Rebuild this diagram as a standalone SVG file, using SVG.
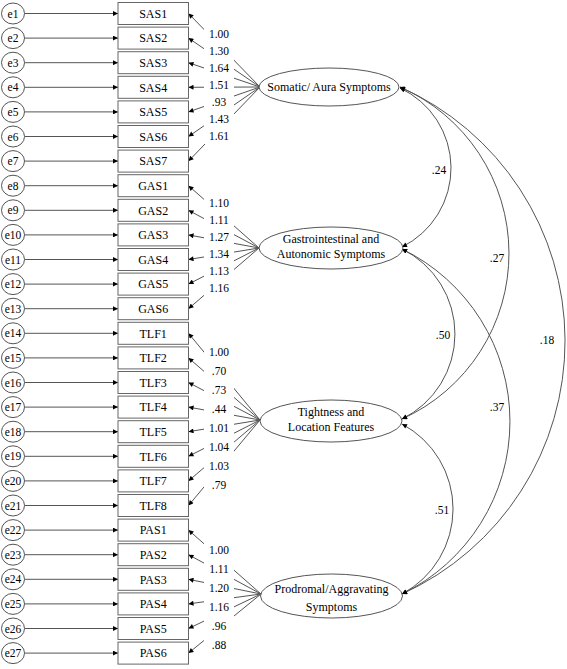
<svg xmlns="http://www.w3.org/2000/svg" width="567" height="669" viewBox="0 0 567 669">
<style>
  .err { fill: #fff; stroke: #555; stroke-width: 1; }
  .box { fill: #fff; stroke: #666; stroke-width: 1; }
  .fac { fill: #fff; stroke: #555; stroke-width: 1; }
  .t { font-family: "Liberation Serif", "Times New Roman", serif; font-size: 12px; fill: #000; text-anchor: middle; }
  .n { font-family: "Liberation Serif", "Times New Roman", serif; font-size: 11.5px; fill: #000; text-anchor: middle; }
  .c { fill: none; stroke: #555; stroke-width: 1; }
  .a { fill: none; stroke: #555; stroke-width: 1; marker-end: url(#ah); }
  .d { fill: none; stroke: #555; stroke-width: 1; marker-start: url(#ah); marker-end: url(#ah); }
  .mask { fill: #fff; stroke: none; }
</style>
<defs>
  <marker id="ah" viewBox="0 0 10 10" refX="10" refY="5" markerWidth="7" markerHeight="5" markerUnits="userSpaceOnUse" orient="auto-start-reverse">
    <path d="M0,0 L10,5 L0,10 z" fill="#000"/>
  </marker>
</defs>
<rect width="567" height="669" fill="#fff"/>

<g id="connectors">
  <!-- error arrows -->
  <line class="a" x1="24.5" y1="13.5" x2="118" y2="13.5"/>
  <line class="a" x1="24.5" y1="38.1" x2="118" y2="38.1"/>
  <line class="a" x1="24.5" y1="62.7" x2="118" y2="62.7"/>
  <line class="a" x1="24.5" y1="87.3" x2="118" y2="87.3"/>
  <line class="a" x1="24.5" y1="111.9" x2="118" y2="111.9"/>
  <line class="a" x1="24.5" y1="136.5" x2="118" y2="136.5"/>
  <line class="a" x1="24.5" y1="161.1" x2="118" y2="161.1"/>
  <line class="a" x1="24.5" y1="185.7" x2="118" y2="185.7"/>
  <line class="a" x1="24.5" y1="210.3" x2="118" y2="210.3"/>
  <line class="a" x1="24.5" y1="234.9" x2="118" y2="234.9"/>
  <line class="a" x1="24.5" y1="259.5" x2="118" y2="259.5"/>
  <line class="a" x1="24.5" y1="284.1" x2="118" y2="284.1"/>
  <line class="a" x1="24.5" y1="308.7" x2="118" y2="308.7"/>
  <line class="a" x1="24.5" y1="333.3" x2="118" y2="333.3"/>
  <line class="a" x1="24.5" y1="357.9" x2="118" y2="357.9"/>
  <line class="a" x1="24.5" y1="382.5" x2="118" y2="382.5"/>
  <line class="a" x1="24.5" y1="407.1" x2="118" y2="407.1"/>
  <line class="a" x1="24.5" y1="431.7" x2="118" y2="431.7"/>
  <line class="a" x1="24.5" y1="456.3" x2="118" y2="456.3"/>
  <line class="a" x1="24.5" y1="480.9" x2="118" y2="480.9"/>
  <line class="a" x1="24.5" y1="505.5" x2="118" y2="505.5"/>
  <line class="a" x1="24.5" y1="530.1" x2="118" y2="530.1"/>
  <line class="a" x1="24.5" y1="554.7" x2="118" y2="554.7"/>
  <line class="a" x1="24.5" y1="579.3" x2="118" y2="579.3"/>
  <line class="a" x1="24.5" y1="603.9" x2="118" y2="603.9"/>
  <line class="a" x1="24.5" y1="628.5" x2="118" y2="628.5"/>
  <line class="a" x1="24.5" y1="653.1" x2="118" y2="653.1"/>
  <!-- loadings: Somatic -->
  <line class="a" x1="260" y1="87" x2="188.5" y2="13.5"/>
  <line class="a" x1="260" y1="87" x2="188.5" y2="38.1"/>
  <line class="a" x1="260" y1="87" x2="188.5" y2="62.7"/>
  <line class="a" x1="260" y1="87" x2="188.5" y2="87.3"/>
  <line class="a" x1="260" y1="87" x2="188.5" y2="111.9"/>
  <line class="a" x1="260" y1="87" x2="188.5" y2="136.5"/>
  <line class="a" x1="260" y1="87" x2="188.5" y2="161.1"/>
  <!-- loadings: Gastro -->
  <line class="a" x1="259" y1="248" x2="188.5" y2="185.7"/>
  <line class="a" x1="259" y1="248" x2="188.5" y2="210.3"/>
  <line class="a" x1="259" y1="248" x2="188.5" y2="234.9"/>
  <line class="a" x1="259" y1="248" x2="188.5" y2="259.5"/>
  <line class="a" x1="259" y1="248" x2="188.5" y2="284.1"/>
  <line class="a" x1="259" y1="248" x2="188.5" y2="308.7"/>
  <!-- loadings: Tightness -->
  <line class="a" x1="260" y1="420" x2="188.5" y2="333.3"/>
  <line class="a" x1="260" y1="420" x2="188.5" y2="357.9"/>
  <line class="a" x1="260" y1="420" x2="188.5" y2="382.5"/>
  <line class="a" x1="260" y1="420" x2="188.5" y2="407.1"/>
  <line class="a" x1="260" y1="420" x2="188.5" y2="431.7"/>
  <line class="a" x1="260" y1="420" x2="188.5" y2="456.3"/>
  <line class="a" x1="260" y1="420" x2="188.5" y2="480.9"/>
  <line class="a" x1="260" y1="420" x2="188.5" y2="505.5"/>
  <!-- loadings: Prodromal -->
  <line class="a" x1="261" y1="594" x2="188.5" y2="530.1"/>
  <line class="a" x1="261" y1="594" x2="188.5" y2="554.7"/>
  <line class="a" x1="261" y1="594" x2="188.5" y2="579.3"/>
  <line class="a" x1="261" y1="594" x2="188.5" y2="603.9"/>
  <line class="a" x1="261" y1="594" x2="188.5" y2="628.5"/>
  <line class="a" x1="261" y1="594" x2="188.5" y2="653.1"/>
  <!-- covariances -->
  <path class="d" d="M400,88 A88.2,88.2 0 0 1 402,247"/>
  <path class="d" d="M400,87 A181.6,181.6 0 0 1 402,419"/>
  <path class="d" d="M400,87 A277.9,277.9 0 0 1 402,594"/>
  <path class="d" d="M402,249 A94.7,94.7 0 0 1 402,419"/>
  <path class="d" d="M402,249 A191.8,191.8 0 0 1 402,594"/>
  <path class="d" d="M402,424 A96.3,96.3 0 0 1 402,594"/>
</g>

<g id="labels">
  <rect class="mask" x="204" y="25" width="30" height="119"/>
  <rect class="mask" x="204" y="194.8" width="30" height="102"/>
  <rect class="mask" x="204" y="342.8" width="30" height="151.2"/>
  <rect class="mask" x="204" y="540.5" width="30" height="113.4"/>
  <text class="n" x="219" y="37.7">1.00</text>
  <text class="n" x="219" y="54.7">1.30</text>
  <text class="n" x="219" y="71.7">1.64</text>
  <text class="n" x="219" y="88.7">1.51</text>
  <text class="n" x="219" y="105.7">.93</text>
  <text class="n" x="219" y="122.7">1.43</text>
  <text class="n" x="219" y="139.7">1.61</text>
  <text class="n" x="219" y="207.3">1.10</text>
  <text class="n" x="219" y="224.3">1.11</text>
  <text class="n" x="219" y="241.3">1.27</text>
  <text class="n" x="219" y="258.3">1.34</text>
  <text class="n" x="219" y="275.3">1.13</text>
  <text class="n" x="219" y="292.3">1.16</text>
  <text class="n" x="219" y="356.3">1.00</text>
  <text class="n" x="219" y="375.2">.70</text>
  <text class="n" x="219" y="394.1">.73</text>
  <text class="n" x="219" y="413">.44</text>
  <text class="n" x="219" y="431.9">1.01</text>
  <text class="n" x="219" y="450.8">1.04</text>
  <text class="n" x="219" y="469.7">1.03</text>
  <text class="n" x="219" y="488.6">.79</text>
  <text class="n" x="219" y="554">1.00</text>
  <text class="n" x="219" y="572.9">1.11</text>
  <text class="n" x="219" y="591.8">1.20</text>
  <text class="n" x="219" y="610.7">1.16</text>
  <text class="n" x="219" y="629.6">.96</text>
  <text class="n" x="219" y="648.5">.88</text>
  <text class="n" x="439" y="174">.24</text>
  <text class="n" x="497" y="262">.27</text>
  <text class="n" x="547" y="344">.18</text>
  <text class="n" x="443" y="339">.50</text>
  <text class="n" x="497" y="411">.37</text>
  <text class="n" x="442" y="514">.51</text>
</g>

<g id="e1"><ellipse class="err" cx="13" cy="13.5" rx="11.5" ry="10.5"/><text class="n" x="13" y="17.5">e1</text></g>
<g id="e2"><ellipse class="err" cx="13" cy="38.1" rx="11.5" ry="10.5"/><text class="n" x="13" y="42.1">e2</text></g>
<g id="e3"><ellipse class="err" cx="13" cy="62.7" rx="11.5" ry="10.5"/><text class="n" x="13" y="66.7">e3</text></g>
<g id="e4"><ellipse class="err" cx="13" cy="87.3" rx="11.5" ry="10.5"/><text class="n" x="13" y="91.3">e4</text></g>
<g id="e5"><ellipse class="err" cx="13" cy="111.9" rx="11.5" ry="10.5"/><text class="n" x="13" y="115.9">e5</text></g>
<g id="e6"><ellipse class="err" cx="13" cy="136.5" rx="11.5" ry="10.5"/><text class="n" x="13" y="140.5">e6</text></g>
<g id="e7"><ellipse class="err" cx="13" cy="161.1" rx="11.5" ry="10.5"/><text class="n" x="13" y="165.1">e7</text></g>
<g id="e8"><ellipse class="err" cx="13" cy="185.7" rx="11.5" ry="10.5"/><text class="n" x="13" y="189.7">e8</text></g>
<g id="e9"><ellipse class="err" cx="13" cy="210.3" rx="11.5" ry="10.5"/><text class="n" x="13" y="214.3">e9</text></g>
<g id="e10"><ellipse class="err" cx="13" cy="234.9" rx="11.5" ry="10.5"/><text class="n" x="13" y="238.9">e10</text></g>
<g id="e11"><ellipse class="err" cx="13" cy="259.5" rx="11.5" ry="10.5"/><text class="n" x="13" y="263.5">e11</text></g>
<g id="e12"><ellipse class="err" cx="13" cy="284.1" rx="11.5" ry="10.5"/><text class="n" x="13" y="288.1">e12</text></g>
<g id="e13"><ellipse class="err" cx="13" cy="308.7" rx="11.5" ry="10.5"/><text class="n" x="13" y="312.7">e13</text></g>
<g id="e14"><ellipse class="err" cx="13" cy="333.3" rx="11.5" ry="10.5"/><text class="n" x="13" y="337.3">e14</text></g>
<g id="e15"><ellipse class="err" cx="13" cy="357.9" rx="11.5" ry="10.5"/><text class="n" x="13" y="361.9">e15</text></g>
<g id="e16"><ellipse class="err" cx="13" cy="382.5" rx="11.5" ry="10.5"/><text class="n" x="13" y="386.5">e16</text></g>
<g id="e17"><ellipse class="err" cx="13" cy="407.1" rx="11.5" ry="10.5"/><text class="n" x="13" y="411.1">e17</text></g>
<g id="e18"><ellipse class="err" cx="13" cy="431.7" rx="11.5" ry="10.5"/><text class="n" x="13" y="435.7">e18</text></g>
<g id="e19"><ellipse class="err" cx="13" cy="456.3" rx="11.5" ry="10.5"/><text class="n" x="13" y="460.3">e19</text></g>
<g id="e20"><ellipse class="err" cx="13" cy="480.9" rx="11.5" ry="10.5"/><text class="n" x="13" y="484.9">e20</text></g>
<g id="e21"><ellipse class="err" cx="13" cy="505.5" rx="11.5" ry="10.5"/><text class="n" x="13" y="509.5">e21</text></g>
<g id="e22"><ellipse class="err" cx="13" cy="530.1" rx="11.5" ry="10.5"/><text class="n" x="13" y="534.1">e22</text></g>
<g id="e23"><ellipse class="err" cx="13" cy="554.7" rx="11.5" ry="10.5"/><text class="n" x="13" y="558.7">e23</text></g>
<g id="e24"><ellipse class="err" cx="13" cy="579.3" rx="11.5" ry="10.5"/><text class="n" x="13" y="583.3">e24</text></g>
<g id="e25"><ellipse class="err" cx="13" cy="603.9" rx="11.5" ry="10.5"/><text class="n" x="13" y="607.9">e25</text></g>
<g id="e26"><ellipse class="err" cx="13" cy="628.5" rx="11.5" ry="10.5"/><text class="n" x="13" y="632.5">e26</text></g>
<g id="e27"><ellipse class="err" cx="13" cy="653.1" rx="11.5" ry="10.5"/><text class="n" x="13" y="657.1">e27</text></g>

<g id="SAS1"><rect class="box" x="118" y="2.5" width="70.5" height="22"/><text class="t" x="153.2" y="17.7">SAS1</text></g>
<g id="SAS2"><rect class="box" x="118" y="27.1" width="70.5" height="22"/><text class="t" x="153.2" y="42.3">SAS2</text></g>
<g id="SAS3"><rect class="box" x="118" y="51.7" width="70.5" height="22"/><text class="t" x="153.2" y="66.9">SAS3</text></g>
<g id="SAS4"><rect class="box" x="118" y="76.3" width="70.5" height="22"/><text class="t" x="153.2" y="91.5">SAS4</text></g>
<g id="SAS5"><rect class="box" x="118" y="100.9" width="70.5" height="22"/><text class="t" x="153.2" y="116.1">SAS5</text></g>
<g id="SAS6"><rect class="box" x="118" y="125.5" width="70.5" height="22"/><text class="t" x="153.2" y="140.7">SAS6</text></g>
<g id="SAS7"><rect class="box" x="118" y="150.1" width="70.5" height="22"/><text class="t" x="153.2" y="165.3">SAS7</text></g>
<g id="GAS1"><rect class="box" x="118" y="174.7" width="70.5" height="22"/><text class="t" x="153.2" y="189.9">GAS1</text></g>
<g id="GAS2"><rect class="box" x="118" y="199.3" width="70.5" height="22"/><text class="t" x="153.2" y="214.5">GAS2</text></g>
<g id="GAS3"><rect class="box" x="118" y="223.9" width="70.5" height="22"/><text class="t" x="153.2" y="239.1">GAS3</text></g>
<g id="GAS4"><rect class="box" x="118" y="248.5" width="70.5" height="22"/><text class="t" x="153.2" y="263.7">GAS4</text></g>
<g id="GAS5"><rect class="box" x="118" y="273.1" width="70.5" height="22"/><text class="t" x="153.2" y="288.3">GAS5</text></g>
<g id="GAS6"><rect class="box" x="118" y="297.7" width="70.5" height="22"/><text class="t" x="153.2" y="312.9">GAS6</text></g>
<g id="TLF1"><rect class="box" x="118" y="322.3" width="70.5" height="22"/><text class="t" x="153.2" y="337.5">TLF1</text></g>
<g id="TLF2"><rect class="box" x="118" y="346.9" width="70.5" height="22"/><text class="t" x="153.2" y="362.1">TLF2</text></g>
<g id="TLF3"><rect class="box" x="118" y="371.5" width="70.5" height="22"/><text class="t" x="153.2" y="386.7">TLF3</text></g>
<g id="TLF4"><rect class="box" x="118" y="396.1" width="70.5" height="22"/><text class="t" x="153.2" y="411.3">TLF4</text></g>
<g id="TLF5"><rect class="box" x="118" y="420.7" width="70.5" height="22"/><text class="t" x="153.2" y="435.9">TLF5</text></g>
<g id="TLF6"><rect class="box" x="118" y="445.3" width="70.5" height="22"/><text class="t" x="153.2" y="460.5">TLF6</text></g>
<g id="TLF7"><rect class="box" x="118" y="469.9" width="70.5" height="22"/><text class="t" x="153.2" y="485.1">TLF7</text></g>
<g id="TLF8"><rect class="box" x="118" y="494.5" width="70.5" height="22"/><text class="t" x="153.2" y="509.7">TLF8</text></g>
<g id="PAS1"><rect class="box" x="118" y="519.1" width="70.5" height="22"/><text class="t" x="153.2" y="534.3">PAS1</text></g>
<g id="PAS2"><rect class="box" x="118" y="543.7" width="70.5" height="22"/><text class="t" x="153.2" y="558.9">PAS2</text></g>
<g id="PAS3"><rect class="box" x="118" y="568.3" width="70.5" height="22"/><text class="t" x="153.2" y="583.5">PAS3</text></g>
<g id="PAS4"><rect class="box" x="118" y="592.9" width="70.5" height="22"/><text class="t" x="153.2" y="608.1">PAS4</text></g>
<g id="PAS5"><rect class="box" x="118" y="617.5" width="70.5" height="22"/><text class="t" x="153.2" y="632.7">PAS5</text></g>
<g id="PAS6"><rect class="box" x="118" y="642.1" width="70.5" height="22"/><text class="t" x="153.2" y="657.3">PAS6</text></g>

<g id="somatic"><ellipse class="fac" cx="329" cy="87" rx="70" ry="19"/><text class="t" x="329" y="91">Somatic/ Aura Symptoms</text></g>
<g id="gastro"><ellipse class="fac" cx="331" cy="248" rx="72" ry="21"/><text class="t" x="331" y="243.3">Gastrointestinal and</text><text class="t" x="331" y="258">Autonomic Symptoms</text></g>
<g id="tightness"><ellipse class="fac" cx="331" cy="421" rx="71" ry="21"/><text class="t" x="331" y="415.7">Tightness and</text><text class="t" x="331" y="430.7">Location Features</text></g>
<g id="prodromal"><ellipse class="fac" cx="331.5" cy="596" rx="71" ry="22"/><text class="t" x="331.5" y="593.3">Prodromal/Aggravating</text><text class="t" x="331.5" y="611.3">Symptoms</text></g>
</svg>
